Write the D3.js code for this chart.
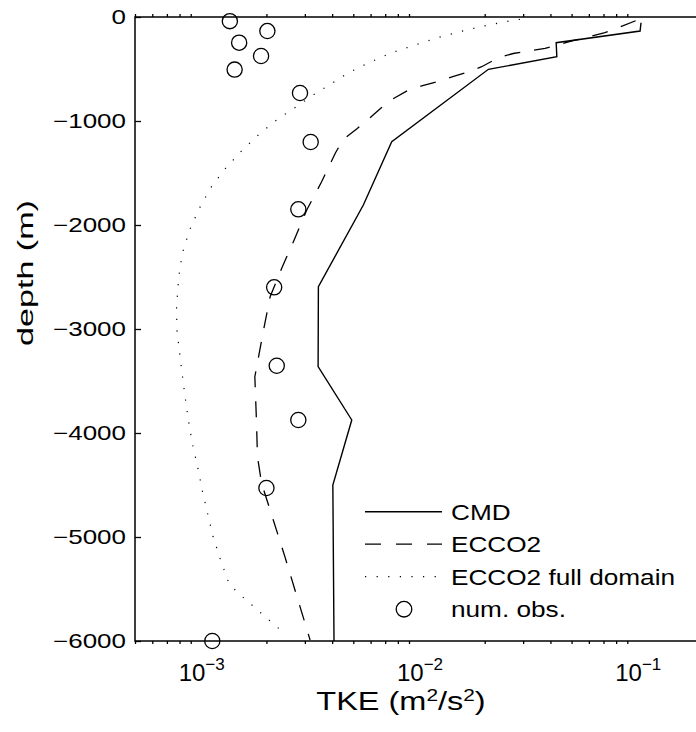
<!DOCTYPE html>
<html>
<head>
<meta charset="utf-8">
<script src="https://cdn.jsdelivr.net/npm/d3@7"></script>
<style>
  html, body { margin: 0; padding: 0; background: #fff; }
  svg { display: block; }
  text { font-family: "Liberation Sans", Arial, Helvetica, sans-serif; fill: #000; }
</style>
</head>
<body>
<svg id="chart" width="696" height="732"></svg>
<script>
// CMD mooring profile (depth in m, TKE in m^2/s^2)
const cmdDepth = [-55, -135, -247, -382, -503, -1199, -1808, -2593, -3362, -3875, -4500, -6000];
const cmdTKE   = [0.104, 0.103, 0.0425, 0.0428, 0.0208, 0.0075, 0.00556, 0.00346, 0.00345, 0.00492, 0.00403, 0.00408];

// ECCO2 sampled at the mooring sites
const eccoDepth = [-36, -151, -228, -301, -351, -394, -478, -529, -574, -622, -663, -709, -788, -878, -984, -1077, -1176,
                   -1308, -1584, -1856, -2144, -2416, -2689, -3010, -3459, -3875, -4228, -4483, -4836, -5189, -5990];
const eccoTKE   = [0.0983, 0.0711, 0.0508, 0.0378, 0.0270, 0.0230, 0.01937, 0.01677, 0.01427, 0.01213, 0.01029, 0.00884, 0.00758, 0.00668, 0.00586, 0.00518, 0.00450,
                   0.00414, 0.00358, 0.00306, 0.00268, 0.00235, 0.00208, 0.00194, 0.00177, 0.00180, 0.00182, 0.00190, 0.00215, 0.00243, 0.00317];

// ECCO2 averaged over the full model domain
const fullDepth = [-22, -43, -87, -141, -199, -269, -343, -439, -538, -663, -724, -856, -983, -1128, -1286, -1455, -1639, -1846, -2055,
                   -2272, -2503, -2779, -3010, -3185, -3418, -3651, -3875, -4103, -4330, -4555, -4779, -5003, -5226, -5439, -5526, -5678, -5830, -5904];
const fullTKE   = [0.0290, 0.0252, 0.0197, 0.01542, 0.01213, 0.00960, 0.00750, 0.00590, 0.00474, 0.00382, 0.00342, 0.00277, 0.00225, 0.00185, 0.00154, 0.00130, 0.001114, 0.000982, 0.000887,
                   0.000824, 0.000793, 0.000775, 0.000778, 0.000796, 0.000821, 0.000848, 0.000878, 0.000916, 0.000969, 0.001017, 0.001077, 0.001142, 0.001235, 0.001344, 0.001462, 0.001767, 0.002137, 0.00235];

// Instrument records (num. obs.)
const obsDepth = [-40, -135, -247, -375, -506, -731, -1202, -1849, -2599, -3353, -3875, -4529, -6000];
const obsTKE   = [0.00136, 0.00202, 0.00150, 0.00189, 0.00143, 0.00285, 0.00319, 0.00280, 0.00217, 0.00223, 0.00280, 0.00200, 0.00113];

const depthTicks = [0, -1000, -2000, -3000, -4000, -5000, -6000];
const decadeTicks = [1e-3, 1e-2, 1e-1];
const decadeExp = ["−3", "−2", "−1"];
const legendNames = ["CMD", "ECCO2", "ECCO2 full domain", "num. obs."];

const svg = d3.select("#chart");
const L = 135, T = 17, R = 703, B = 641;

const x = d3.scaleLog().domain([5e-4, 0.2]).range([L, R]);
const y = d3.scaleLinear().domain([-6000, 0]).range([B, T]);

// minor ticks of the log axis
const minorTicks = x.ticks().filter(v => !decadeTicks.some(d => Math.abs(v - d) / d < 1e-9));

const line = d3.line().x(d => x(d[1])).y(d => y(d[0]));
const zip = (a, b) => a.map((v, i) => [v, b[i]]);

// profiles
svg.append("path").datum(zip(fullDepth, fullTKE)).attr("d", line)
  .attr("fill", "none").attr("stroke", "#000").attr("stroke-width", 1.2)
  .attr("stroke-dasharray", "1.2,10.4");
svg.append("path").datum(zip(eccoDepth, eccoTKE)).attr("d", line)
  .attr("fill", "none").attr("stroke", "#000").attr("stroke-width", 1.3)
  .attr("stroke-dasharray", "16,14");
svg.append("path").datum(zip(cmdDepth, cmdTKE)).attr("d", line)
  .attr("fill", "none").attr("stroke", "#000").attr("stroke-width", 1.4);

// frame
svg.append("rect").attr("x", L).attr("y", T).attr("width", R - L).attr("height", B - T)
  .attr("fill", "none").attr("stroke", "#000").attr("stroke-width", 1.5);

// depth axis (ticks point inward)
const yAxis = svg.append("g").attr("transform", `translate(${L},0)`)
  .call(d3.axisLeft(y).tickValues(depthTicks).tickSize(-6).tickFormat(""));
yAxis.select(".domain").remove();
yAxis.selectAll("line").attr("stroke-width", 1.3);

// TKE axes, bottom and top
function logTicks(yPos, dir) {
  const g = svg.append("g").attr("transform", `translate(0,${yPos})`);
  const mk = dir > 0 ? d3.axisTop : d3.axisBottom;
  g.call(mk(x).tickValues(decadeTicks).tickSize(-6).tickFormat(""));
  g.call(mk(x).tickValues(minorTicks).tickSize(-3).tickFormat(""));
  g.selectAll(".domain").remove();
  g.selectAll("line").attr("stroke-width", 1.3);
}
logTicks(B, 1);
logTicks(T, -1);

// text helper: labels widened along their baseline
function label(parent, tx, ty, anchor, size, sx, rotate) {
  const g = parent.append("g")
    .attr("transform", `translate(${tx},${ty})` + (rotate ? ` rotate(${rotate})` : "") + ` scale(${sx},1)`);
  return g.append("text").attr("text-anchor", anchor).attr("font-size", size);
}

depthTicks.forEach(d => {
  label(svg, 126, y(d) + 7, "end", 20, 1.3)
    .text(d === 0 ? "0" : "−" + Math.abs(d));
});

decadeTicks.forEach((d, i) => {
  const t = label(svg, x(d) + 1, 681, "middle", 24, 1.0);
  t.append("tspan").text("10");
  t.append("tspan").attr("dy", -11).attr("font-size", 17).text(decadeExp[i]);
});

// axis titles
const xl = label(svg, 401, 710, "middle", 25, 1.3);
xl.append("tspan").text("TKE (m");
xl.append("tspan").attr("dy", -9).attr("font-size", 16).text("2");
xl.append("tspan").attr("dy", 9).text("/s");
xl.append("tspan").attr("dy", -9).attr("font-size", 16).text("2");
xl.append("tspan").attr("dy", 9).text(")");

label(svg, 33, 273, "middle", 22, 1.55, -90).text("depth (m)");

// legend
const legY0 = 511.7, legDY = 32.5;
const styles = [
  { dash: null, w: 1.4 },
  { dash: "16,15", w: 1.3 },
  { dash: "1.2,10.4", w: 1.2 }
];
styles.forEach((s, i) => {
  const ly = legY0 + i * legDY;
  const ln = svg.append("line").attr("x1", 365).attr("x2", 442).attr("y1", ly).attr("y2", ly)
    .attr("stroke", "#000").attr("stroke-width", s.w);
  if (s.dash) ln.attr("stroke-dasharray", s.dash);
});
svg.append("circle").attr("cx", 404).attr("cy", legY0 + 3 * legDY).attr("r", 7.8)
  .attr("fill", "none").attr("stroke", "#000").attr("stroke-width", 1.3);
legendNames.forEach((n, i) => {
  label(svg, 451, legY0 + i * legDY + 7.8, "start", 22, 1.19).text(n);
});

// observation markers
svg.append("g").selectAll("circle").data(zip(obsDepth, obsTKE)).join("circle")
  .attr("cx", d => x(d[1])).attr("cy", d => y(d[0])).attr("r", 7.6)
  .attr("fill", "none").attr("stroke", "#000").attr("stroke-width", 1.3);
</script>
</body>
</html>
